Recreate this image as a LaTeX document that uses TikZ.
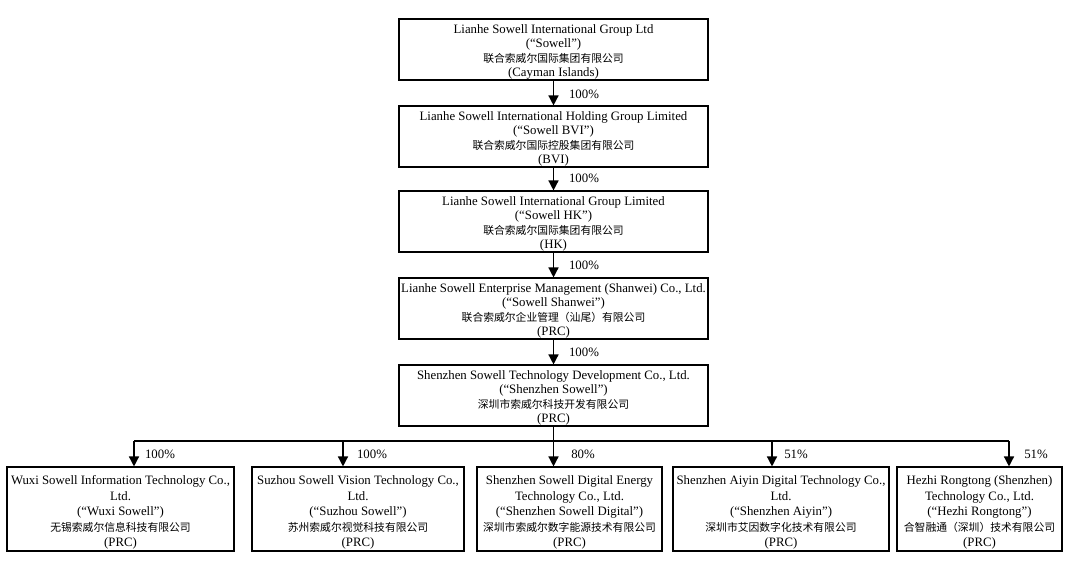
\documentclass[tikz,border=0pt]{standalone}
\usepackage{fontspec}
\setmainfont{Liberation Serif}
\newfontfamily\cjk{Noto Sans CJK SC}
\usetikzlibrary{arrows.meta}
\newcommand\zh[1]{{\cjk\fontsize{10.8}{14}\selectfont #1}}
\newcommand\tstrut{\rule{0pt}{14pt}}
\newcommand\bstrut{\rule{0pt}{16pt}}
\begin{document}
\begin{tikzpicture}[x=1pt,y=-1pt,
  every node/.style={font=\fontsize{12.8}{14.5}\selectfont},
  box/.style={draw, line width=1.1pt, align=center, inner sep=0pt},
  topbox/.style={box, minimum width=309pt, minimum height=61pt},
  botbox/.style={box, minimum height=84pt, font=\fontsize{12.8}{15.5}\selectfont},
  arr/.style={line width=1.4pt, -{Triangle[width=10pt,length=10pt]}},
  pct/.style={inner sep=0pt}]
\useasboundingbox (0,0) rectangle (1071,579);

\node[topbox] (n1) at (553.5,49.5) {\tstrut Lianhe Sowell International Group Ltd\\(“Sowell”)\\\zh{联合索威尔国际集团有限公司}\\(Cayman Islands)};
\node[topbox] (n2) at (553.5,136.5) {\tstrut Lianhe Sowell International Holding Group Limited\\(“Sowell BVI”)\\\zh{联合索威尔国际控股集团有限公司}\\(BVI)};
\node[topbox] (n3) at (553.5,221.5) {\tstrut Lianhe Sowell International Group Limited\\(“Sowell HK”)\\\zh{联合索威尔国际集团有限公司}\\(HK)};
\node[topbox] (n4) at (553.5,308.5) {\tstrut Lianhe Sowell Enterprise Management (Shanwei) Co., Ltd.\\(“Sowell Shanwei”)\\\zh{联合索威尔企业管理（汕尾）有限公司}\\(PRC)};
\node[topbox] (n5) at (553.5,395.5) {\tstrut Shenzhen Sowell Technology Development Co., Ltd.\\(“Shenzhen Sowell”)\\\zh{深圳市索威尔科技开发有限公司}\\(PRC)};

\draw[arr] (n1.south) -- (n2.north);
\draw[arr] (n2.south) -- (n3.north);
\draw[arr] (n3.south) -- (n4.north);
\draw[arr] (n4.south) -- (n5.north);
\node[pct] (p1) at (584,94) {100\%};
\node[pct] (p2) at (584,178) {100\%};
\node[pct] (p3) at (584,265) {100\%};
\node[pct] (p4) at (584,352) {100\%};

\node[botbox, minimum width=227pt] (a) at (120.5,509) {\bstrut Wuxi Sowell Information Technology Co.,\\Ltd.\\(“Wuxi Sowell”)\\\zh{无锡索威尔信息科技有限公司}\\(PRC)};
\node[botbox, minimum width=212pt] (b) at (358,509) {\bstrut Suzhou Sowell Vision Technology Co.,\\Ltd.\\(“Suzhou Sowell”)\\\zh{苏州索威尔视觉科技有限公司}\\(PRC)};
\node[botbox, minimum width=185pt] (c) at (569.5,509) {\bstrut Shenzhen Sowell Digital Energy\\Technology Co., Ltd.\\(“Shenzhen Sowell Digital”)\\\zh{深圳市索威尔数字能源技术有限公司}\\(PRC)};
\node[botbox, minimum width=216pt] (d) at (781,509) {\bstrut Shenzhen Aiyin Digital Technology Co.,\\Ltd.\\(“Shenzhen Aiyin”)\\\zh{深圳市艾因数字化技术有限公司}\\(PRC)};
\node[botbox, minimum width=165pt] (e) at (979.5,509) {\bstrut Hezhi Rongtong (Shenzhen)\\Technology Co., Ltd.\\(“Hezhi Rongtong”)\\\zh{合智融通（深圳）技术有限公司}\\(PRC)};

\coordinate (bar) at (553.5,441);
\coordinate (ja) at (134,441);
\coordinate (jb) at (343,441);
\coordinate (jc) at (553.5,441);
\coordinate (jd) at (772,441);
\coordinate (je) at (1009,441);
\draw[line width=1.4pt] (n5.south) -- (bar);
\draw[line width=1.4pt] (ja) -- (je);
\draw[arr] (ja) -- (ja |- a.north);
\draw[arr] (jb) -- (jb |- b.north);
\draw[arr] (jc) -- (jc |- c.north);
\draw[arr] (jd) -- (jd |- d.north);
\draw[arr] (je) -- (je |- e.north);
\node[pct] (pa) at (160,454) {100\%};
\node[pct] (pb) at (372,454) {100\%};
\node[pct] (pc) at (583,454) {80\%};
\node[pct] (pd) at (796,454) {51\%};
\node[pct] (pe) at (1036,454) {51\%};
\end{tikzpicture}
\end{document}
